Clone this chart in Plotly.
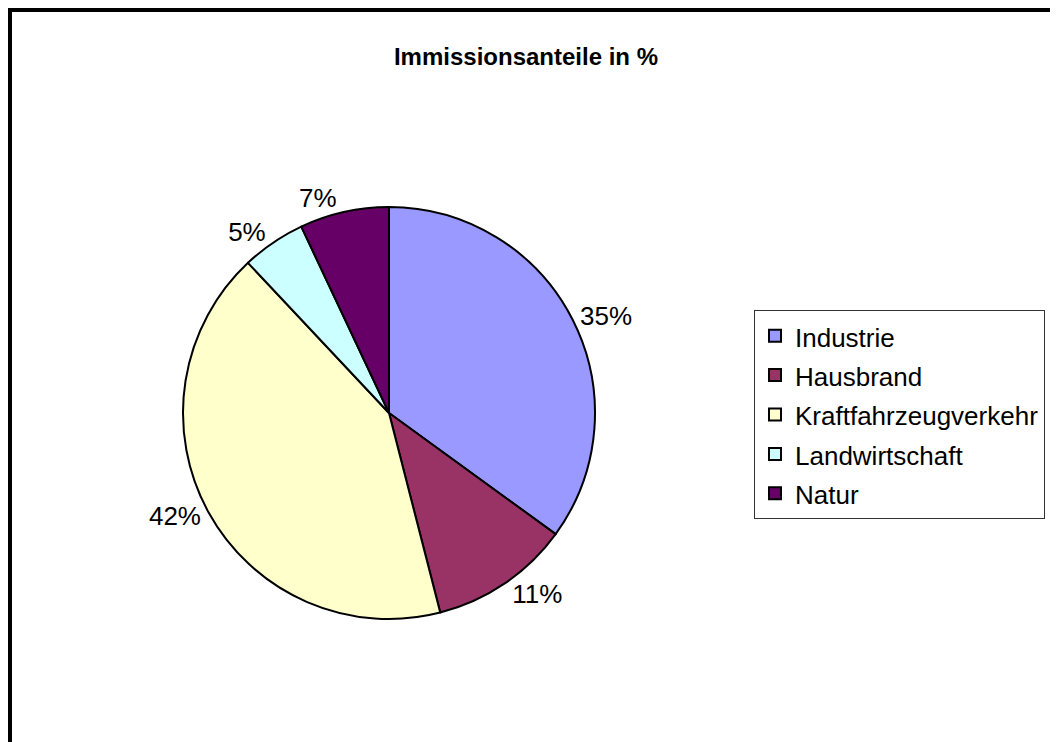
import plotly.graph_objects as go

categories = ["Industrie", "Hausbrand", "Kraftfahrzeugverkehr", "Landwirtschaft", "Natur"]
values = [35, 11, 42, 5, 7]
colors = ["#9999FF", "#993366", "#FFFFCC", "#CCFFFF", "#660066"]
title_text = "Immissionsanteile in %"

W, H = 1058, 742
OFF = 8  # page body margin shift
cx, cy, r = 389 - OFF, 413 - OFF, 206

legend_labels = ['<span style="font-size:26px">%s</span>' % c for c in categories]

fig = go.Figure(go.Pie(
    labels=legend_labels,
    values=values,
    marker=dict(colors=colors, line=dict(color="black", width=2)),
    sort=False,
    direction="clockwise",
    rotation=0,
    textinfo="percent",
    textposition="outside",
    outsidetextfont=dict(family="Liberation Sans, Arial, sans-serif", size=26, color="black"),
    domain=dict(x=[(cx - r) / W, (cx + r) / W], y=[1 - (cy + r) / H, 1 - (cy - r) / H]),
    hoverinfo="label+percent",
))

fig.update_layout(
    width=W, height=H,
    margin=dict(l=0, r=0, t=0, b=0),
    paper_bgcolor="white",
    plot_bgcolor="white",
    font=dict(family="Liberation Sans, Arial, sans-serif", color="black"),
    title=dict(text="<b>%s</b>" % title_text, x=(526 - OFF) / W, xanchor="center",
               y=1 - (57 - OFF) / H, yanchor="middle",
               font=dict(size=24, color="black", family="Liberation Sans, Arial, sans-serif")),
    showlegend=True,
    legend=dict(x=(754 - OFF) / W, y=1 - (310 - OFF) / H, xanchor="left", yanchor="top",
                bordercolor="#333333", borderwidth=1, bgcolor="white",
                font=dict(size=28, color="black", family="Liberation Sans, Arial, sans-serif")),
    shapes=[dict(type="rect", xref="paper", yref="paper",
                 x0=2 / W, x1=1.05, y0=-0.05, y1=1 - 2 / H,
                 line=dict(color="black", width=4), fillcolor="rgba(0,0,0,0)")],
)

fig.write_html("out.html")
